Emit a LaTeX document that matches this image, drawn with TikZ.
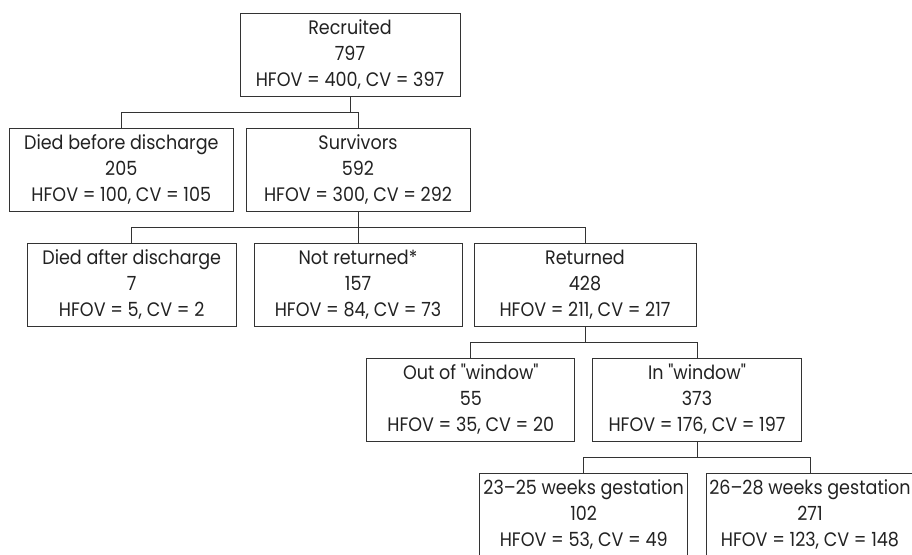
\documentclass[tikz,border=0pt]{standalone}
\usepackage{fontspec}
\setmainfont{Poppins}[Ligatures=TeXOff, FakeStretch=0.9]
\usetikzlibrary{positioning}
\definecolor{boxgray}{HTML}{333333}
\definecolor{txtgray}{HTML}{222222}
\tikzset{
  box/.style={draw=boxgray, line width=1pt, rectangle, align=center,
    minimum height=83pt, inner sep=0pt, text=txtgray,
    font=\fontsize{19.5}{26}\selectfont},
  link/.style={draw=boxgray, line width=1pt},
}

\begin{document}
\begin{tikzpicture}[x=1pt, y=-1pt]
\clip (0,0) rectangle (912,554);
\fill[white] (0,0) rectangle (912,554);

% the five rows of the flow chart, top to bottom
\node[box, minimum width=220pt] (recruited) at (350,54.5) {Recruited\\797\\HFOV = 400, CV = 397};

\node[box, minimum width=224pt] (diedbefore) at (121.3,169.5) {Died before discharge\\205\\HFOV = 100, CV = 105};
\node[box, minimum width=224pt] (survivors) at (358,169.5) {Survivors\\592\\HFOV = 300, CV = 292};

\node[box, minimum width=208.7pt] (diedafter) at (131.7,284.5) {Died after discharge\\7\\HFOV = 5, CV = 2};
\node[box, minimum width=208pt] (notreturned) at (358,284.5) {Not returned*\\157\\HFOV = 84, CV = 73};
\node[box, minimum width=222pt] (returned) at (585,284.5) {Returned\\428\\HFOV = 211, CV = 217};

\node[box, minimum width=208.3pt] (outwindow) at (470.8,399.5) {Out of "window"\\55\\HFOV = 35, CV = 20};
\node[box, minimum width=208.7pt] (inwindow) at (697,399.5) {In "window"\\373\\HFOV = 176, CV = 197};

\node[box, minimum width=208pt] (early) at (583.7,514.5) {23–25 weeks gestation\\102\\HFOV = 53, CV = 49};
\node[box, minimum width=208pt] (late) at (810,514.5) {26–28 weeks gestation\\271\\HFOV = 123, CV = 148};

% connectors: stem down, then across and down into each child
\draw[link] (recruited.south) -- ++(0,16) -| (diedbefore.north);
\draw[link] (recruited.south) -- ++(0,16) -| (survivors.north);

\draw[link] (survivors.south) -- ++(0,16) -| (diedafter.north);
\draw[link] (survivors.south) -- (notreturned.north);
\draw[link] (survivors.south) -- ++(0,16) -| (returned.north);

\draw[link] (returned.south) -- ++(0,16) -| (outwindow.north);
\draw[link] (returned.south) -- ++(0,16) -| (inwindow.north);

\draw[link] (inwindow.south) -- ++(0,16) -| (early.north);
\draw[link] (inwindow.south) -- ++(0,16) -| (late.north);
\end{tikzpicture}
\end{document}
